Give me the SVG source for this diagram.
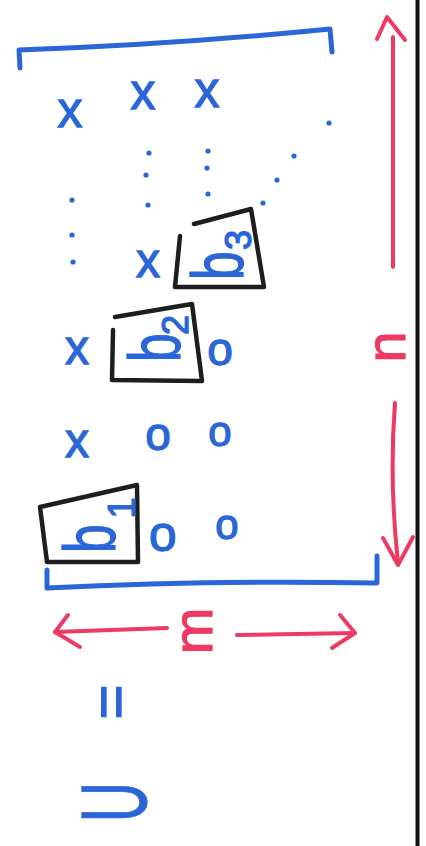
<svg xmlns="http://www.w3.org/2000/svg" width="426" height="846" viewBox="0 0 426 846">
<style>
.blue{fill:none;stroke:#2a66d8;stroke-width:5;stroke-linecap:round;stroke-linejoin:round}
.red{fill:none;stroke:#ec3a63;stroke-width:4;stroke-linecap:round;stroke-linejoin:round}
.box{fill:none;stroke:#1e1e1e;stroke-width:4.5;stroke-linecap:round;stroke-linejoin:round}
.t{font-family:"Liberation Sans",Arial,sans-serif;fill:#2a66d8;stroke:#2a66d8;stroke-width:1.3;text-anchor:middle}
.tr{font-family:"Liberation Sans",Arial,sans-serif;fill:#ec3a63;stroke:#ec3a63;stroke-width:1.2;text-anchor:middle}
.dot{fill:#2a66d8}
</style>
<rect width="426" height="846" fill="#ffffff"/>
<line x1="417.5" y1="0" x2="417.5" y2="846" stroke="#111" stroke-width="4"/>

<g id="brackets">
<path class="blue" d="M20,68 L19,50 Q170,45 330,29 L332,52"/>
<path class="blue" d="M47,570 L47,588 Q210,580 377,583 L377,556"/>
</g>

<g id="entries">
<text class="t" x="70" y="127" font-size="50">x</text>
<text class="t" x="143" y="109" font-size="50">x</text>
<text class="t" x="207" y="107" font-size="50">x</text>
<text class="t" x="148" y="277" font-size="48">x</text>
<text class="t" x="77" y="364" font-size="48">x</text>
<text class="t" x="77" y="457" font-size="48">x</text>
<text class="t" x="220" y="365" font-size="46">o</text>
<text class="t" x="158" y="450" font-size="46">o</text>
<text class="t" x="220" y="446" font-size="42">o</text>
<text class="t" x="163" y="551" font-size="50">o</text>
<text class="t" x="227" y="539" font-size="42">o</text>
</g>

<g id="dots">
<circle class="dot" cx="329" cy="123" r="2.6"/>
<circle class="dot" cx="149" cy="153" r="2.6"/>
<circle class="dot" cx="146" cy="175" r="2.6"/>
<circle class="dot" cx="148" cy="205" r="2.6"/>
<circle class="dot" cx="208" cy="151" r="2.6"/>
<circle class="dot" cx="207" cy="168" r="2.6"/>
<circle class="dot" cx="208" cy="194" r="2.6"/>
<circle class="dot" cx="294" cy="156" r="2.6"/>
<circle class="dot" cx="277" cy="180" r="2.6"/>
<circle class="dot" cx="263" cy="203" r="2.6"/>
<circle class="dot" cx="72" cy="200" r="2.6"/>
<circle class="dot" cx="72" cy="235" r="2.6"/>
<circle class="dot" cx="73" cy="262" r="2.6"/>
</g>

<g id="pivot-b3">
<path class="box" d="M180,236 L175,287 L264,287 L251,209 L194,224"/>
<text class="t" font-size="72" transform="translate(243,280) rotate(-90) scale(0.72,1)" style="text-anchor:start">b</text>
<text class="t" font-size="36" transform="translate(251,240) rotate(-90)">3</text>
</g>

<g id="pivot-b2">
<path class="box" d="M113,330 L112,380 L202,381 L192,304 L115,317"/>
<text class="t" font-size="72" transform="translate(180,362) rotate(-90) scale(0.72,1)" style="text-anchor:start">b</text>
<text class="t" font-size="36" transform="translate(188,325) rotate(-90)">2</text>
</g>

<g id="pivot-b1">
<path class="box" d="M40,507 L137,485 L138,562 L47,562 Z"/>
<text class="t" font-size="72" transform="translate(115,553) rotate(-90) scale(0.72,1)" style="text-anchor:start">b</text>
<text class="t" font-size="38" transform="translate(135,508) rotate(-90)">1</text>
</g>

<g id="connectors">
<path class="red" d="M393,267 L393,37"/>
<path class="red" d="M377,39 L387,17 L405,40"/>
<path class="red" d="M395,403 Q389,480 398,563"/>
<path class="red" d="M383,538 L398,565 L413,537"/>
<path class="red" d="M167,628 L55,632"/>
<path class="red" d="M68,615 L55,632 L80,647"/>
<path class="red" d="M237,635 L355,633"/>
<path class="red" d="M340,615 L355,633 L332,648"/>
</g>

<g id="label-n">
<text class="tr" font-size="56" transform="translate(405,347) rotate(-90)">n</text>
</g>
<g id="label-m">
<text class="tr" font-size="56" transform="translate(212,631) rotate(-90)">m</text>
</g>
<g id="label-eq">
<text class="t" font-size="60" transform="translate(131,702) rotate(-90)">=</text>
</g>
<g id="label-U">
<text class="t" font-size="92" transform="translate(146,802) rotate(-90) scale(0.6,1)">U</text>
</g>
</svg>
